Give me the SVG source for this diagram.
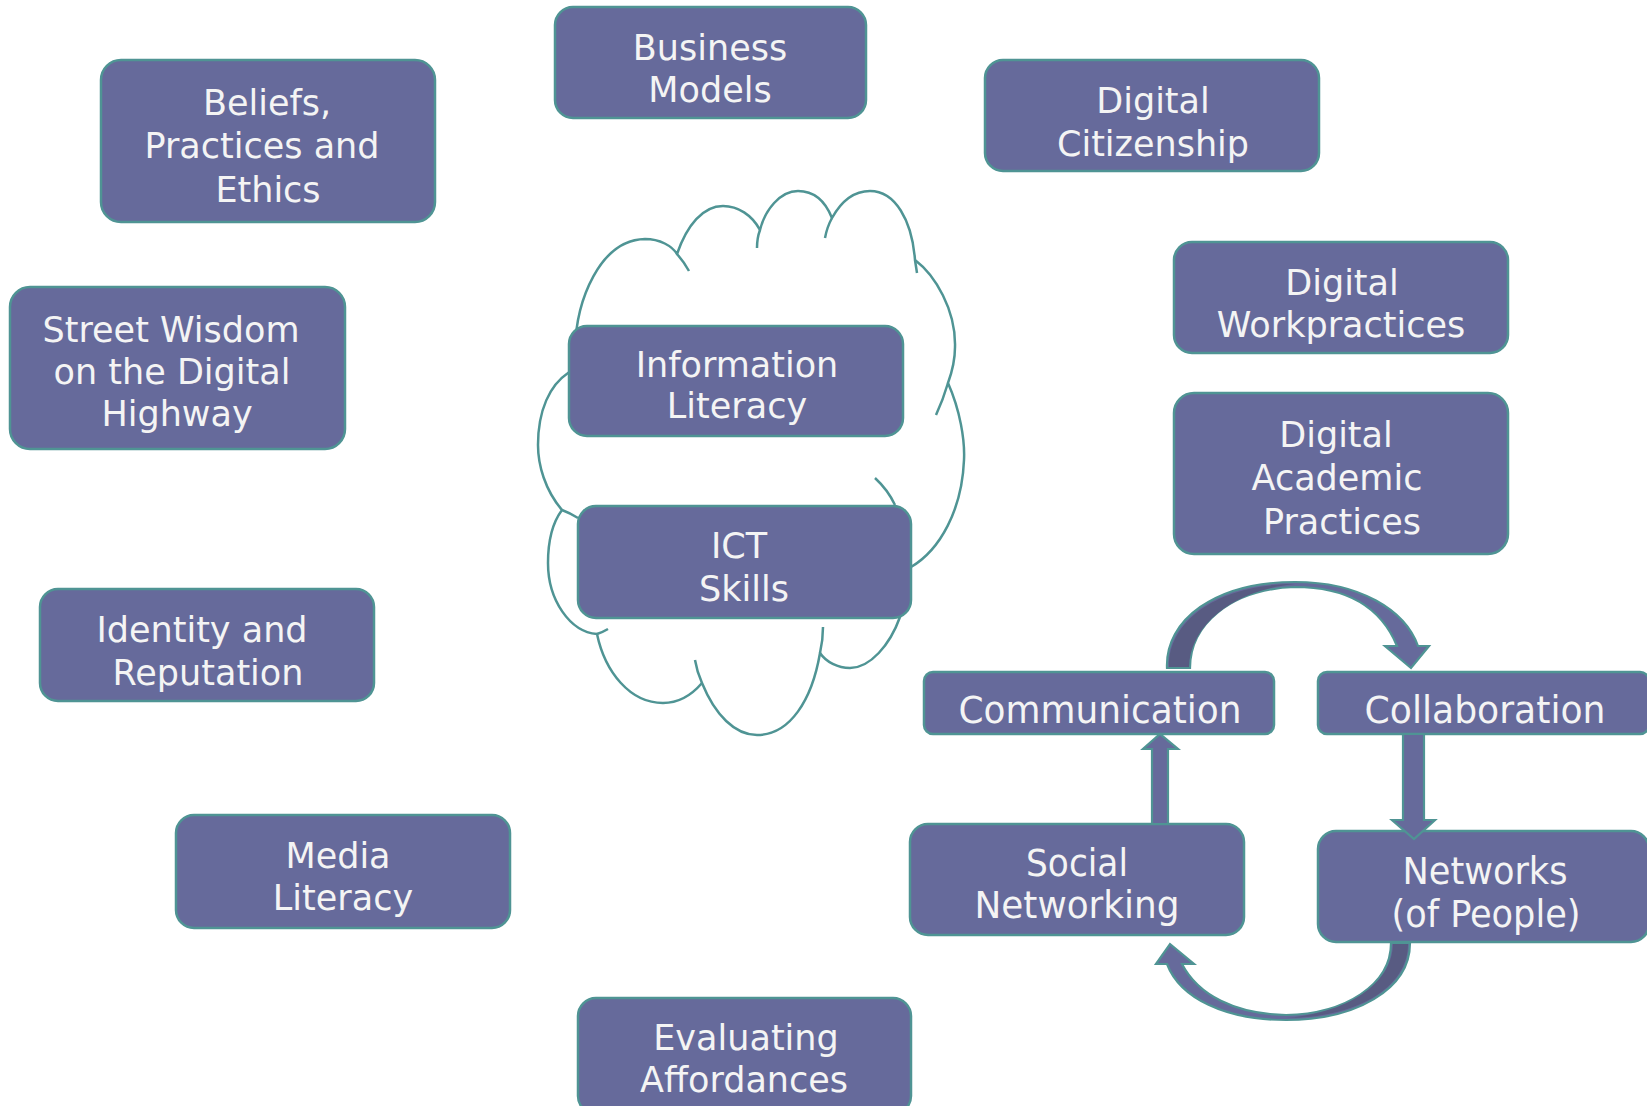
<svg xmlns="http://www.w3.org/2000/svg" width="1647" height="1106" viewBox="0 0 1647 1106">
<style>
.box{fill:#666a9b;stroke:#4f9494;stroke-width:2.5}
.t{fill:#f4f4f4;font-family:"DejaVu Sans",Verdana,sans-serif;font-size:35px;text-anchor:middle}
.tc{fill:#f4f4f4;font-family:"DejaVu Sans Condensed","DejaVu Sans",sans-serif;font-stretch:condensed;font-size:37px;text-anchor:middle}
.cloud{fill:#ffffff;stroke:#4f9494;stroke-width:2.5;stroke-linejoin:round}
.tick{fill:none;stroke:#4f9494;stroke-width:2.5}
.arr{fill:#666a9b;stroke:#4f9494;stroke-width:2.2;stroke-linejoin:miter}
.dark{fill:#585b82;stroke:none}
</style>
<rect width="1647" height="1106" fill="#ffffff"/>

<g id="cloud">
<path class="cloud" d="M575,350 C576,300 600,240 645,239 C660,239 672,246 677,254 C687,225 703,206 723,206 C738,206 752,215 760,230 C765,210 780,191 798,191 C815,191 826,203 832,218 C842,200 855,191 870,191 C895,191 912,220 915,260 C935,275 956,310 955,347 C955,360 952,372 948,383 C960,410 965,440 964,460 C962,510 940,550 911,567 C908,585 904,602 900,617 C890,645 870,668 850,668 C838,668 826,662 820,653 C812,700 790,735 757,735 C735,735 715,715 702,683 C690,697 678,703 663,703 C630,703 605,672 597,634 C570,632 548,600 548,563 C548,540 553,522 562,510 C545,490 538,465 538,445 C538,410 550,385 568,373 L580,365 Z"/>
<path class="tick" d="M677,254 Q684,262 689,271"/>
<path class="tick" d="M757,248 Q757,238 760,230"/>
<path class="tick" d="M825,238 Q827,227 832,218"/>
<path class="tick" d="M915,260 L917,273"/>
<path class="tick" d="M948,383 Q943,400 936,415"/>
<path class="tick" d="M875,478 Q888,490 895,505"/>
<path class="tick" d="M823,627 Q823,640 820,653"/>
<path class="tick" d="M702,683 Q697,672 695,660"/>
<path class="tick" d="M597,634 Q603,632 608,629"/>
<path class="tick" d="M562,510 Q570,513 578,518"/>
</g>

<g id="node-business-models">
<rect class="box" x="555" y="7" width="311" height="111" rx="18"/>
<text class="t" x="710" y="60">Business</text>
<text class="t" x="710" y="102">Models</text>
</g>
<g id="node-beliefs">
<rect class="box" x="101" y="60" width="334" height="162" rx="20"/>
<text class="t" x="267" y="115">Beliefs,</text>
<text class="t" x="262" y="158">Practices and</text>
<text class="t" x="268" y="202">Ethics</text>
</g>
<g id="node-digital-citizenship">
<rect class="box" x="985" y="60" width="334" height="111" rx="18"/>
<text class="t" x="1153" y="113">Digital</text>
<text class="t" x="1153" y="156">Citizenship</text>
</g>
<g id="node-street-wisdom">
<rect class="box" x="10" y="287" width="335" height="162" rx="20"/>
<text class="t" x="171" y="342">Street Wisdom</text>
<text class="t" x="172" y="384">on the Digital</text>
<text class="t" x="177" y="426">Highway</text>
</g>
<g id="node-digital-workpractices">
<rect class="box" x="1174" y="242" width="334" height="111" rx="18"/>
<text class="t" x="1342" y="295">Digital</text>
<text class="t" x="1341" y="337">Workpractices</text>
</g>
<g id="node-digital-academic-practices">
<rect class="box" x="1174" y="393" width="334" height="161" rx="20"/>
<text class="t" x="1336" y="447">Digital</text>
<text class="t" x="1337" y="490">Academic</text>
<text class="t" x="1342" y="534">Practices</text>
</g>
<g id="node-information-literacy">
<rect class="box" x="569" y="326" width="334" height="110" rx="18"/>
<text class="t" x="737" y="377">Information</text>
<text class="t" x="737" y="418">Literacy</text>
</g>
<g id="node-ict-skills">
<rect class="box" x="578" y="506" width="333" height="112" rx="18"/>
<text class="t" x="739" y="558">ICT</text>
<text class="t" x="744" y="601">Skills</text>
</g>
<g id="node-identity-reputation">
<rect class="box" x="40" y="589" width="334" height="112" rx="18"/>
<text class="t" x="202" y="642">Identity and</text>
<text class="t" x="208" y="685">Reputation</text>
</g>
<g id="node-media-literacy">
<rect class="box" x="176" y="815" width="334" height="113" rx="18"/>
<text class="t" x="338" y="868">Media</text>
<text class="t" x="343" y="910">Literacy</text>
</g>
<g id="node-evaluating-affordances">
<rect class="box" x="578" y="998" width="333" height="116" rx="18"/>
<text class="t" x="746" y="1050">Evaluating</text>
<text class="t" x="744" y="1092">Affordances</text>
</g>
<g id="node-communication">
<rect class="box" x="924" y="672" width="350" height="62" rx="9"/>
<text class="tc" x="1100" y="723" textLength="283" lengthAdjust="spacingAndGlyphs">Communication</text>
</g>
<g id="node-collaboration">
<rect class="box" x="1318" y="672" width="331" height="62" rx="9"/>
<text class="tc" x="1485" y="723" textLength="241" lengthAdjust="spacingAndGlyphs">Collaboration</text>
</g>
<g id="node-social-networking">
<rect class="box" x="910" y="824" width="334" height="111" rx="18"/>
<text class="tc" x="1077" y="876" textLength="102" lengthAdjust="spacingAndGlyphs">Social</text>
<text class="tc" x="1077" y="918" textLength="205" lengthAdjust="spacingAndGlyphs">Networking</text>
</g>
<g id="node-networks-people">
<rect class="box" x="1318" y="831" width="331" height="111" rx="18"/>
<text class="tc" x="1485" y="884" textLength="165" lengthAdjust="spacingAndGlyphs">Networks</text>
<text class="tc" x="1486" y="927" textLength="189" lengthAdjust="spacingAndGlyphs">(of People)</text>
</g>

<g id="connectors">
<path class="arr" d="M1167,668 C1165,620 1215,582 1295,582 C1360,582 1405,610 1418,646 L1429,646 L1411,668 L1385,646 L1397,646 C1380,605 1345,587 1295,587 C1230,589 1190,625 1190,668 Z"/>
<path class="dark" d="M1169,667 C1168,622 1216,584 1295,584 C1232,590 1190,626 1189,667 Z"/>
<path class="arr" d="M1403,734 L1424,734 L1424,820 L1435,820 L1414,839 L1392,820 L1403,820 Z"/>
<path class="arr" d="M1410,943 C1410,990 1355,1020 1286,1020 C1225,1020 1180,998 1167,964 L1156,964 L1170,944 L1194,964 L1182,964 C1198,995 1235,1014 1286,1015 C1345,1014 1391,985 1391,943 Z"/>
<path class="dark" d="M1408,944 C1408,989 1354,1018 1286,1018 C1346,1013 1392,985 1393,944 Z"/>
<path class="arr" d="M1152,824 L1152,749 L1143,749 L1160,734 L1178,749 L1168,749 L1168,824 Z"/>
</g>
</svg>
